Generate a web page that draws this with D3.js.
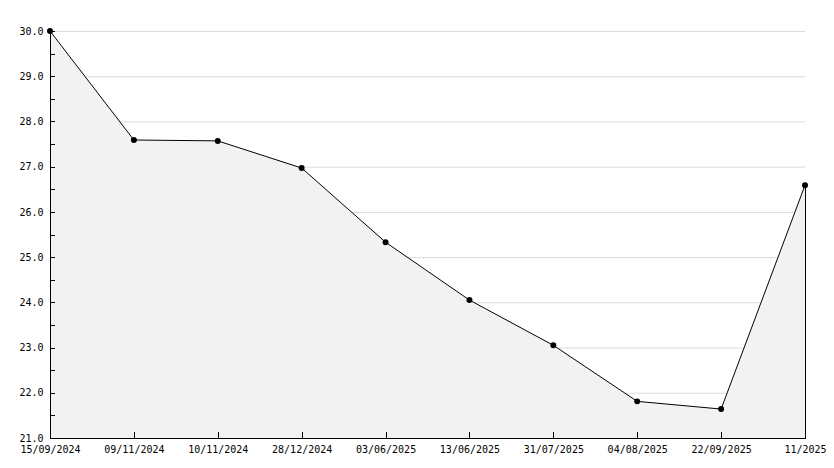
<!DOCTYPE html>
<html><head><meta charset="utf-8">
<script src="https://cdn.jsdelivr.net/npm/d3@7"></script>
<style>body{margin:0;background:#fff}svg{display:block}text{font-family:"DejaVu Sans Mono",monospace;font-size:10px;fill:#000}</style>
</head><body><svg id="c" width="834" height="468"></svg>
<script>
const categories = ["15/09/2024","09/11/2024","10/11/2024","28/12/2024","03/06/2025","13/06/2025","31/07/2025","04/08/2025","22/09/2025","11/2025"];
const values = [30.0, 27.59, 27.57, 26.97, 25.33, 24.05, 23.05, 21.81, 21.64, 26.59];
const yTicks = [21,22,23,24,25,26,27,28,29,30];
const yMinor = [21.5,22.5,23.5,24.5,25.5,26.5,27.5,28.5,29.5];

const svg = d3.select("#c");
const L = 50, R = 805, T = 31, B = 438;
const x = d3.scalePoint().domain(categories).range([L, R]);
const y = d3.scaleLinear().domain([21, 30]).range([B, T]);
const data = categories.map((c,i)=>({c, v: values[i]}));

// gridlines
svg.append("g").selectAll("line").data(yTicks.slice(1)).join("line")
  .attr("x1", L).attr("x2", R).attr("y1", d=>y(d)+0.5).attr("y2", d=>y(d)+0.5)
  .attr("stroke", "#dcdcdc").attr("stroke-width", 1);

// area
svg.append("path").datum(data)
  .attr("d", d3.area().x(d=>x(d.c)).y0(B).y1(d=>y(d.v)))
  .attr("fill", "#f2f2f2");

// right edge of area
svg.append("line").attr("x1", R+0.5).attr("x2", R+0.5)
  .attr("y1", y(values[values.length-1])).attr("y2", B).attr("stroke", "#000");

// line
svg.append("path").datum(data)
  .attr("d", d3.line().x(d=>x(d.c)).y(d=>y(d.v)))
  .attr("fill", "none").attr("stroke", "#000").attr("stroke-width", 1);

// axes
const yAxis = d3.axisLeft(y).tickValues(yTicks).tickFormat(d3.format(".1f")).tickSize(0).tickPadding(7);
const gy = svg.append("g").attr("transform", `translate(${L+0.5},0)`).call(yAxis);
gy.select(".domain").remove();
gy.selectAll("text").style("font-family", "DejaVu Sans Mono").style("font-size", "10px");
svg.append("g").selectAll("line").data(yTicks.concat(yMinor)).join("line")
  .attr("x1", L).attr("x2", L+5).attr("y1", d=>Math.round(y(d))+0.5).attr("y2", d=>Math.round(y(d))+0.5)
  .attr("stroke", "#000");
svg.append("line").attr("x1", L+0.5).attr("x2", L+0.5).attr("y1", T).attr("y2", B+1).attr("stroke", "#000");

const xAxis = d3.axisBottom(x).tickSize(0).tickPadding(7);
const gx = svg.append("g").attr("transform", `translate(0,${B+0.5})`).call(xAxis);
gx.select(".domain").remove();
gx.selectAll("text").style("font-family", "DejaVu Sans Mono").style("font-size", "10px");
svg.append("g").selectAll("line").data(categories.slice(1, -1)).join("line")
  .attr("x1", d=>Math.round(x(d))+0.5).attr("x2", d=>Math.round(x(d))+0.5).attr("y1", B-6).attr("y2", B)
  .attr("stroke", "#000");
svg.append("line").attr("x1", L).attr("x2", R+1).attr("y1", B+0.5).attr("y2", B+0.5).attr("stroke", "#000");

// markers
svg.append("g").selectAll("path").data(data).join("path")
  .attr("transform", d=>`translate(${x(d.c)},${y(d.v)})`)
  .attr("d", d3.symbol(d3.symbolCircle, 28))
  .attr("fill", "#000");
</script></body></html>
